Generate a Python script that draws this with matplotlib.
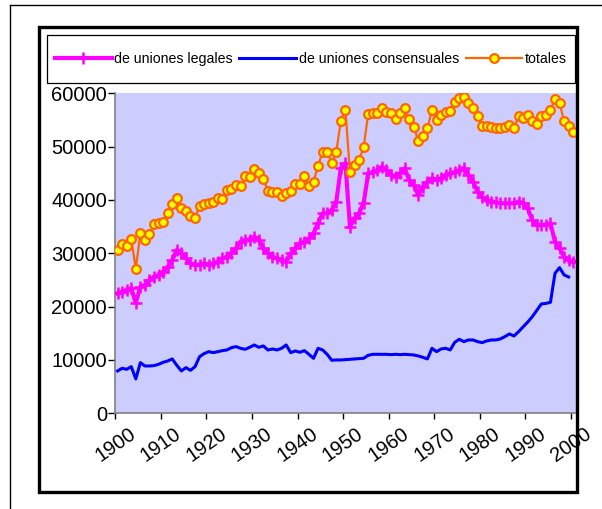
import numpy as np
import matplotlib.pyplot as plt
from matplotlib.patches import Rectangle
from matplotlib.lines import Line2D
from matplotlib.transforms import ScaledTranslation

years = list(range(1900, 2001))

# de uniones legales, 1900..2000
legales = [
    22500, 22810, 23125, 23440, 20700, 23750, 24060, 25000, 25625, 25940,  # 1900s
    26560, 27500, 28750, 30625, 30000, 29060, 28125, 27810, 27810, 28125,  # 1910s
    27810, 28125, 28440, 29060, 29375, 30150, 30940, 32190, 32500, 32500,  # 1920s
    33125, 32500, 30940, 30000, 29375, 29060, 28750, 28440, 30000, 30940,  # 1930s
    31875, 32190, 32810, 33750, 35625, 37500, 37500, 38125, 39690, 46000,  # 1940s
    46900, 35000, 36560, 37500, 39375, 45000, 45190, 45625, 46250, 45625,  # 1950s
    44690, 44375, 45000, 45940, 43750, 42810, 40940, 42500, 43440, 44060,  # 1960s
    43750, 44060, 44690, 45000, 45190, 45625, 46000, 44690, 43440, 41560,  # 1970s
    40625, 40000, 39690, 39560, 39375, 39375, 39375, 39375, 39690, 39375,  # 1980s
    38440, 36250, 35310, 35310, 35310, 35625, 32190, 30940, 29375, 28750,  # 1990s
    28440,
]

# de uniones consensuales, 1900..1999 (no value for 2000)
consensuales = [
    7940, 8440, 8250, 8750, 6440, 9500, 8875, 8875, 8940, 9190,
    9560, 9810, 10190, 9000, 7940, 8560, 8060, 8750, 10625, 11190,
    11560, 11375, 11560, 11750, 11875, 12310, 12500, 12190, 12000, 12375,
    12810, 12375, 12625, 11875, 12060, 11875, 12190, 12810, 11375, 11690,
    11440, 11750, 11060, 10310, 12190, 11875, 11060, 9940, 10000, 10000,
    10060, 10125, 10190, 10250, 10310, 10875, 11060, 11060, 11060, 11060,
    11000, 11060, 11000, 11060, 11000, 10940, 10750, 10500, 10190, 12190,
    11560, 12060, 12190, 11875, 13310, 13875, 13440, 13750, 13750, 13440,
    13250, 13560, 13750, 13750, 13940, 14375, 14875, 14500, 15300, 16200,
    17100, 18100, 19300, 20500, 20600, 20810, 26250, 27310, 25940, 25560,
    None,
]

# totales, 1900..2000
totales = [
    30625, 31690, 31375, 32690, 27060, 33750, 32500, 33625, 35440, 35690,
    35940, 37560, 39190, 40310, 38560, 37940, 37000, 36690, 38870, 39240,
    39375, 39690, 40310, 40190, 41870, 42120, 42810, 42620, 44500, 44250,
    45850, 45100, 43940, 41650, 41440, 41560, 40690, 41250, 41690, 43000,
    42940, 44440, 42690, 43440, 46375, 49060, 48940, 46875, 49060, 54875,
    56940, 45190, 46560, 47500, 49875, 56125, 56375, 56250, 57190, 56560,
    56250, 55125, 56250, 57190, 55125, 53750, 51125, 52060, 53440, 56875,
    55000, 55940, 56440, 56690, 58310, 59120, 59375, 58125, 57190, 55750,
    53940, 53940, 53625, 53440, 53440, 53690, 54060, 53440, 55750, 55310,
    55940, 54810, 54190, 55810, 55940, 56875, 58940, 58125, 54810, 53940,
    52810,
]

tick_labels = ['1900', '1910', '1920', '1930', '1940', '1950',
               '1960', '1970', '1980', '1990', '2000']

plt.rcParams['font.family'] = ['Liberation Sans', 'DejaVu Sans']

W, H = 602, 509
fig = plt.figure(figsize=(W / 100, H / 100), dpi=100)
fig.patch.set_facecolor('white')

# plot area in pixels
x0, x1, y0, y1 = 115.3, 575.5, 93.3, 413.3
ax = fig.add_axes([x0 / W, 1 - y1 / H, (x1 - x0) / W, (y1 - y0) / H])
ax.set_facecolor('#CCCCFF')

leg_vals = np.array(legales, dtype=float)
con_vals = np.array([np.nan if v is None else v for v in consensuales], dtype=float)
tot_vals = np.array(totales, dtype=float)

ax.plot(years, leg_vals, color='#FF00FF', lw=3, marker='+', ms=8.5, mew=1.8,
        label='de uniones legales', zorder=3)
ax.plot(years, con_vals, color='#0000FF', lw=2.2,
        label='de uniones consensuales', zorder=3)
ax.plot(years, tot_vals, color='#FF6600', lw=1.6, marker='o', ms=6.3,
        mfc='#FFFF00', mec='#FF6600', mew=1.6, label='totales', zorder=4)

ax.set_xlim(1899.5, 2000.5)
ax.set_ylim(0, 60000)
ax.set_yticks(range(0, 60001, 10000))
ax.set_yticklabels([str(v) for v in range(0, 60001, 10000)], fontsize=14.5)
ax.set_xticks([1899.5 + 10 * k for k in range(11)])
ax.set_xticklabels(tick_labels, fontsize=14.5, rotation=35, ha='center')
shift = ScaledTranslation(-5 / 100, 0, fig.dpi_scale_trans)
for lab in ax.get_xticklabels():
    lab.set_transform(lab.get_transform() + shift)

ax.tick_params(axis='y', direction='out', length=5, width=1, pad=1, color='black')
ax.tick_params(axis='x', direction='out', length=4, width=1, pad=3.5, color='black')
for s in ['top', 'right']:
    ax.spines[s].set_visible(False)
for s in ['left', 'bottom']:
    ax.spines[s].set_color('#808080')
    ax.spines[s].set_linewidth(1.2)

# legend: box drawn separately, entries centred inside it
lx0, lx1, ly0, ly1 = 47, 575, 35, 83
fig.add_artist(Rectangle((lx0 / W, 1 - ly1 / H), (lx1 - lx0) / W, (ly1 - ly0) / H,
                         transform=fig.transFigure, fill=True, fc='white',
                         ec='black', lw=0.9, zorder=5))
leg = fig.legend(loc='center', ncol=3,
                 bbox_to_anchor=((lx0 + lx1) / 2 / W, 1 - (ly0 + ly1) / 2 / H),
                 fontsize=10.2, frameon=False, handlelength=4.0,
                 handletextpad=0.2, columnspacing=0.45, numpoints=1,
                 borderpad=0, borderaxespad=0)
leg.set_zorder(6)

# thick chart border
fig.add_artist(Rectangle((38.5 / W, 1 - 492 / H), (576.5 - 38.5) / W, (492 - 27) / H,
                         transform=fig.transFigure, fill=False, ec='black', lw=2.4,
                         zorder=10))
# thin outer frame (cut at right and bottom)
fig.add_artist(Line2D([9.5 / W, 1.0], [1 - 5 / H, 1 - 5 / H],
                      transform=fig.transFigure, color='black', lw=1))
fig.add_artist(Line2D([9.5 / W, 9.5 / W], [0, 1 - 5 / H],
                      transform=fig.transFigure, color='black', lw=1))

plt.savefig('out.png', dpi=100)
